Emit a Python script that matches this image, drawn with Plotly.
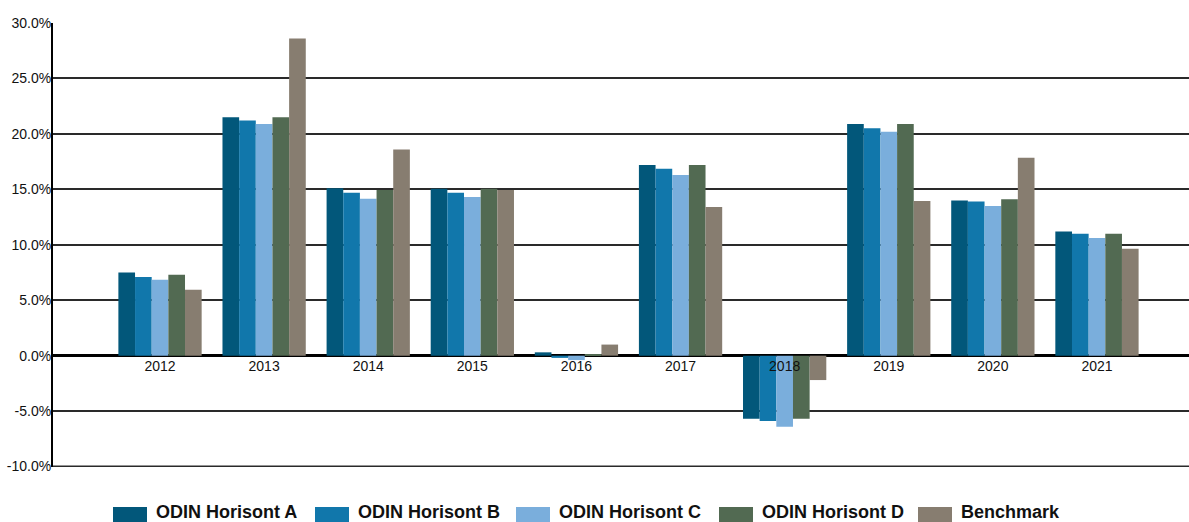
import plotly.graph_objects as go

# Annual returns (%) per fund class and benchmark
years = ["2012", "2013", "2014", "2015", "2016", "2017", "2018", "2019", "2020", "2021"]
horisont_a = [7.5, 21.5, 15.1, 15.05, 0.3, 17.2, -5.7, 20.9, 14.0, 11.2]
horisont_b = [7.1, 21.2, 14.7, 14.7, -0.2, 16.85, -5.9, 20.5, 13.9, 11.0]
horisont_c = [6.85, 20.9, 14.15, 14.3, -0.4, 16.3, -6.4, 20.2, 13.5, 10.6]
horisont_d = [7.3, 21.5, 14.95, 15.05, 0.1, 17.2, -5.7, 20.9, 14.1, 11.0]
benchmark = [5.95, 28.6, 18.6, 14.95, 1.0, 13.4, -2.2, 13.95, 17.85, 9.65]

series_names = ["ODIN Horisont A", "ODIN Horisont B", "ODIN Horisont C",
                "ODIN Horisont D", "Benchmark"]
series_values = [horisont_a, horisont_b, horisont_c, horisont_d, benchmark]
colors = ["#02577A", "#1177AB", "#7AAEDC", "#526A52", "#877D70"]

y_ticks = [-10, -5, 0, 5, 10, 15, 20, 25, 30]

W, H = 1189, 522
ML, MR, MT, MB = 53, 0, 23, 55
PW, PH = W - ML - MR, H - MT - MB

fig = go.Figure()
for name, vals, col in zip(series_names, series_values, colors):
    fig.add_trace(go.Bar(x=list(range(len(years))), y=vals, name=name,
                         marker=dict(color=col, line=dict(width=0)),
                         showlegend=False))

font_family = "Liberation Sans, Arial, sans-serif"
grid_color = "#2a2a2a"

fig.update_layout(
    width=W, height=H,
    margin=dict(l=ML, r=MR, t=MT, b=MB, pad=0),
    paper_bgcolor="white", plot_bgcolor="white",
    barmode="group", bargap=0.2, bargroupgap=0,
    font=dict(family=font_family, size=14, color="#111111"),
    xaxis=dict(
        range=[-1.028, 9.884],
        tickmode="array", tickvals=list(range(len(years))), ticktext=years,
        showgrid=False, zeroline=False, showline=False, ticks="",
        anchor="free", position=0.25,
        tickfont=dict(size=14, color="#111111"),
    ),
    yaxis=dict(
        range=[-10.04, 30.0], tickvals=y_ticks,
        ticktext=[f"{v:.1f}%" for v in y_ticks],
        showgrid=True, gridcolor=grid_color, gridwidth=2,
        zeroline=True, zerolinecolor="#000000", zerolinewidth=3,
        showline=True, linecolor="#000000", linewidth=2,
        ticks="", ticklabelstandoff=-3,
        tickfont=dict(size=14, color="#111111"),
    ),
)

# Bottom gridline at the lower end of the value range
fig.add_shape(type="line", xref="paper", yref="y",
              x0=0, x1=1, y0=y_ticks[0], y1=y_ticks[0],
              line=dict(color=grid_color, width=2), layer="below")

# Legend row along the bottom: coloured swatch followed by the series name
legend_x = [113, 315, 516, 719, 918]
sw_w, sw_top, sw_bot = 34, 507, 523


def px_to_paper_x(px):
    return (px - ML) / PW


def px_to_paper_y(py):
    return (H - MB - py) / PH


for x0, name, col in zip(legend_x, series_names, colors):
    fig.add_shape(type="rect", xref="paper", yref="paper",
                  x0=px_to_paper_x(x0), x1=px_to_paper_x(x0 + sw_w),
                  y0=px_to_paper_y(sw_bot), y1=px_to_paper_y(sw_top),
                  fillcolor=col, line=dict(width=0), layer="above")
    fig.add_annotation(xref="paper", yref="paper",
                       x=px_to_paper_x(x0 + sw_w + 7), y=px_to_paper_y(512),
                       xanchor="left", yanchor="middle", showarrow=False,
                       text=f"<b>{name}</b>",
                       font=dict(family=font_family, size=18, color="#111111"))

fig.write_html("out.html")
